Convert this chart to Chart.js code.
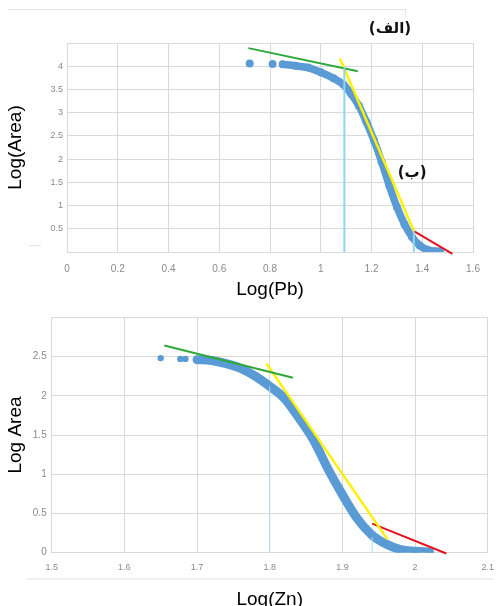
<!DOCTYPE html>
<html>
<head>
<meta charset="utf-8">
<script src="https://cdn.jsdelivr.net/npm/chart.js@4.4.0/dist/chart.umd.min.js"></script>
<style>
  html, body { margin: 0; padding: 0; background: #fff; overflow: hidden; }
  body { width: 503px; height: 606px; position: relative; }
  .box { position: absolute; left: 0; width: 503px; height: 300px; }
  #topBox { top: 0; }
  #bottomBox { top: 306px; }
  .rule { position: absolute; background: #e3e3e3; height: 1px; }
</style>
</head>
<body>
<div class="rule" style="left:9px; top:9px; width:397px;"></div>
<div class="rule" style="left:405px; top:9px; width:1px; height:8px;"></div>
<div class="rule" style="left:29px; top:245px; width:12px;"></div>
<div class="rule" style="left:27px; top:578px; width:466px; height:2px; background:#f0f0f0;"></div>
<div class="box" id="topBox"><canvas id="pbChart" width="503" height="300"></canvas></div>
<div class="box" id="bottomBox"><canvas id="znChart" width="503" height="300"></canvas></div>
<script>
// Log(Pb) vs Log(Area)
const pbStrayX = [0.72, 0.81];
const pbStrayY = [4.06, 4.05];
const pbCurveX = [0.85, 0.90, 0.95, 1.00, 1.05, 1.09, 1.12, 1.15, 1.18, 1.21, 1.24, 1.27, 1.30, 1.33, 1.36, 1.39, 1.42, 1.47];
const pbCurveY = [4.04, 4.01, 3.97, 3.87, 3.74, 3.60, 3.40, 3.15, 2.80, 2.40, 1.94, 1.43, 0.97, 0.60, 0.32, 0.14, 0.05, 0.01];
const pbGreenX = [0.715, 1.146];
const pbGreenY = [4.39, 3.89];
const pbYellowX = [1.076, 1.367];
const pbYellowY = [4.16, 0.45];
const pbRedX = [1.367, 1.519];
const pbRedY = [0.45, -0.04];
const pbCutX = [1.093, 1.367];
const pbCutTop = [3.98, 0.45];
const pbNotes = ['(الف)', '(ب)'];
const pbNoteX = [1.273, 1.36];
const pbNoteY = [4.8, 1.7];

// Log(Zn) vs Log Area
const znStrayX = [1.65, 1.677, 1.684];
const znStrayY = [2.48, 2.47, 2.47];
const znCurveX = [1.70, 1.72, 1.74, 1.76, 1.78, 1.80, 1.82, 1.84, 1.86, 1.88, 1.90, 1.92, 1.94, 1.96, 1.98, 2.00, 2.02];
const znCurveY = [2.46, 2.45, 2.41, 2.35, 2.25, 2.12, 1.97, 1.72, 1.44, 1.07, 0.74, 0.44, 0.23, 0.11, 0.04, 0.02, 0.01];
const znGreenX = [1.655, 1.832];
const znGreenY = [2.64, 2.23];
const znYellowX = [1.7955, 1.962];
const znYellowY = [2.41, 0.17];
const znRedX = [1.941, 2.043];
const znRedY = [0.37, -0.01];
const znCutX = [1.80, 1.941];
const znCutTop = [2.12, 0.2];

const BLUE = '#5b9bd5';
const GREEN = '#2fa83a';
const YELLOW = '#fff000';
const RED = '#e3141f';
const GRID = '#d9d9d9';
const TICK = '#8a8a8a';

function pts(xs, ys) {
    return xs.map((x, i) => ({ x: x, y: ys[i] }));
}

function segment(xs, ys, color, width, order) {
    return {
        data: pts(xs, ys),
        showLine: true,
        borderColor: color,
        borderWidth: width,
        pointRadius: 0,
        clip: false,
        order: order
    };
}

function verticals(xs, tops, color, width) {
    return xs.map((x, i) => segment([x, x], [0, tops[i]], color, width, 1));
}

function tidy(v) {
    return String(Number(v.toFixed(2)));
}

const notePlugin = {
    id: 'notes',
    afterDatasetsDraw(chart) {
        if (chart.canvas.id !== 'pbChart') return;
        const ctx = chart.ctx;
        const xs = chart.scales.x, ys = chart.scales.y;
        ctx.save();
        ctx.font = 'bold 15px "DejaVu Sans"';
        ctx.fillStyle = '#111';
        ctx.textAlign = 'center';
        ctx.textBaseline = 'middle';
        ctx.direction = 'rtl';
        pbNotes.forEach((t, i) => {
            ctx.fillText(t, xs.getPixelForValue(pbNoteX[i]), ys.getPixelForValue(pbNoteY[i]));
        });
        ctx.restore();
    }
};

function createScatter(canvasId, o) {
    new Chart(document.getElementById(canvasId), {
        type: 'scatter',
        data: {
            datasets: [
                {
                    data: pts(o.strayX, o.strayY),
                    backgroundColor: BLUE,
                    pointRadius: o.dot,
                    pointBorderWidth: 0,
                    order: 5
                },
                {
                    data: pts(o.curveX, o.curveY),
                    showLine: true,
                    borderColor: BLUE,
                    borderWidth: o.band,
                    borderCapStyle: 'round',
                    borderJoinStyle: 'round',
                    cubicInterpolationMode: 'monotone',
                    backgroundColor: BLUE,
                    pointRadius: o.dot,
                    pointBorderWidth: 0,
                    order: 4
                },
                segment(o.greenX, o.greenY, GREEN, 2, 2),
                segment(o.yellowX, o.yellowY, YELLOW, 2.5, 2),
                segment(o.redX, o.redY, RED, 2, 2)
            ].concat(verticals(o.cutX, o.cutTop, o.cutColor, o.cutWidth))
        },
        options: {
            responsive: false,
            animation: false,
            events: [],
            layout: { padding: o.padding },
            plugins: { legend: { display: false }, tooltip: { enabled: false } },
            scales: {
                x: {
                    type: 'linear',
                    min: o.xMin, max: o.xMax,
                    afterFit: s => { s.height = o.xHeight; },
                    grid: { color: GRID, drawTicks: false },
                    border: { color: GRID },
                    ticks: {
                        stepSize: o.xStep, color: TICK, padding: o.xPad,
                        font: { family: 'Arial, "Liberation Sans"', size: o.xFont },
                        autoSkip: false, maxRotation: 0,
                        callback: v => tidy(v)
                    },
                    title: {
                        display: true, text: o.xTitle, color: '#000',
                        font: { family: 'Arial, "Liberation Sans"', size: 19, lineHeight: o.xTitleLH },
                        padding: { top: 0, bottom: o.xTitlePad }
                    }
                },
                y: {
                    min: 0, max: o.yMax,
                    afterFit: s => { s.width = o.yWidth; },
                    grid: { color: GRID, drawTicks: false },
                    border: { color: GRID },
                    ticks: {
                        stepSize: 0.5, color: TICK, padding: o.yPad,
                        font: { family: 'Arial, "Liberation Sans"', size: o.yFont },
                        autoSkip: false,
                        callback: v => (v >= o.yMax || (v === 0 && !o.showZero)) ? '' : tidy(v)
                    },
                    title: {
                        display: true, text: o.yTitle, color: '#000',
                        font: { family: 'Arial, "Liberation Sans"', size: 19, lineHeight: 1 },
                        padding: { top: 6.5, bottom: 0 }
                    }
                }
            }
        },
        plugins: [notePlugin]
    });
}

createScatter('pbChart', {
    strayX: pbStrayX, strayY: pbStrayY, curveX: pbCurveX, curveY: pbCurveY,
    greenX: pbGreenX, greenY: pbGreenY, yellowX: pbYellowX, yellowY: pbYellowY,
    redX: pbRedX, redY: pbRedY, cutX: pbCutX, cutTop: pbCutTop,
    cutColor: '#8fd6ea', cutWidth: 2, dot: 4, band: 7.5,
    xMin: 0, xMax: 1.6, xStep: 0.2, yMax: 4.5, showZero: false,
    xTitle: 'Log(Pb)', yTitle: 'Log(Area)',
    padding: { left: 0, right: 30, top: 43, bottom: 0 },
    xHeight: 48, yWidth: 67, xPad: 11, yPad: 4, xFont: 10, yFont: 9,
    xTitleLH: 1, xTitlePad: 0.5
});

createScatter('znChart', {
    strayX: znStrayX, strayY: znStrayY, curveX: znCurveX, curveY: znCurveY,
    greenX: znGreenX, greenY: znGreenY, yellowX: znYellowX, yellowY: znYellowY,
    redX: znRedX, redY: znRedY, cutX: znCutX, cutTop: znCutTop,
    cutColor: '#a9def0', cutWidth: 1, dot: 3.2, band: 9,
    xMin: 1.5, xMax: 2.1, xStep: 0.1, yMax: 3, showZero: true,
    xTitle: 'Log(Zn)', yTitle: 'Log Area',
    padding: { left: 0, right: 14.7, top: 11.3, bottom: 0 },
    xHeight: 53.3, yWidth: 51.7, xPad: 9, yPad: 5, xFont: 9, yFont: 10,
    xTitleLH: 0.9, xTitlePad: -2
});
</script>
</body>
</html>
